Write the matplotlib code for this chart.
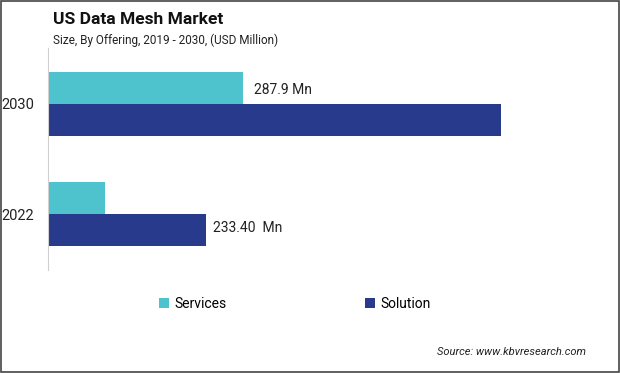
import matplotlib
matplotlib.use("Agg")
import matplotlib.pyplot as plt
from matplotlib.patches import Rectangle

years = ["2022", "2030"]
services = [84, 287.9]
solution = [233.4, 669]
services_labels = ["", "287.9 Mn"]
solution_labels = ["233.40  Mn", ""]

col_services = "#4EC3CD"
col_solution = "#283A8C"

plt.rcParams['font.family'] = ['Roboto', 'DejaVu Sans']

W, H = 620, 373
fig = plt.figure(figsize=(W / 100, H / 100), dpi=100)

# axes placed in pixel terms: left edge x=48, top y=48, bottom y=270
ax_left, ax_top, ax_bot, ax_right = 48, 48, 270, 600
ax = fig.add_axes([ax_left / W, 1 - ax_bot / H, (ax_right - ax_left) / W, (ax_bot - ax_top) / H])

px_per_unit = 158 / 233.4
ax.set_xlim(0, (ax_right - ax_left) / px_per_unit)
ax.set_ylim(-0.509, 1.509)

h = 0.291
ypos = list(range(len(years)))
ax.barh([y + h / 2 for y in ypos], services, height=h, color=col_services, label="Services")
ax.barh([y - h / 2 for y in ypos], solution, height=h, color=col_solution, label="Solution")

for y, v, lab in zip(ypos, services, services_labels):
    if lab:
        ax.text(v + 16, y + h / 2 - 0.02, lab, va="center", ha="left", fontsize=10, color="#222222")
for y, v, lab in zip(ypos, solution, solution_labels):
    if lab:
        ax.text(v + 10, y - h / 2 + 0.02, lab, va="center", ha="left", fontsize=10, color="#222222")

ax.set_yticks(ypos)
ax.set_yticklabels(years, fontsize=10.5, color="#222222")
ax.tick_params(axis="y", length=0, pad=10)
ax.set_xticks([])
for s in ["top", "right", "bottom"]:
    ax.spines[s].set_visible(False)
ax.spines["left"].set_color("#d0d0d0")
ax.spines["left"].set_linewidth(0.8)

handles, labels = ax.get_legend_handles_labels()
fig.legend(handles, labels, loc="center", bbox_to_anchor=(295 / W, 1 - 304 / H), ncol=2,
           frameon=False, fontsize=10, handlelength=0.7, handleheight=0.7,
           handletextpad=0.4, columnspacing=10)

fig.text(53 / W, 1 - 20 / H, "US Data Mesh Market", fontsize=12.5, fontweight="bold",
         va="center", ha="left", color="#111111")
fig.text(53 / W, 1 - 40 / H, "Size, By Offering, 2019 - 2030, (USD Million)", fontsize=8.5,
         va="center", ha="left", color="#222222")
fig.text(586 / W, 1 - 352 / H, "Source: www.kbvresearch.com", fontsize=8, style="italic",
         va="center", ha="right", color="#222222")

fig.patches.append(Rectangle((0.001, 0.002), 0.997, 0.995, transform=fig.transFigure,
                             fill=False, edgecolor="#444444", linewidth=1.2))

fig.savefig("out.png", dpi=100)
